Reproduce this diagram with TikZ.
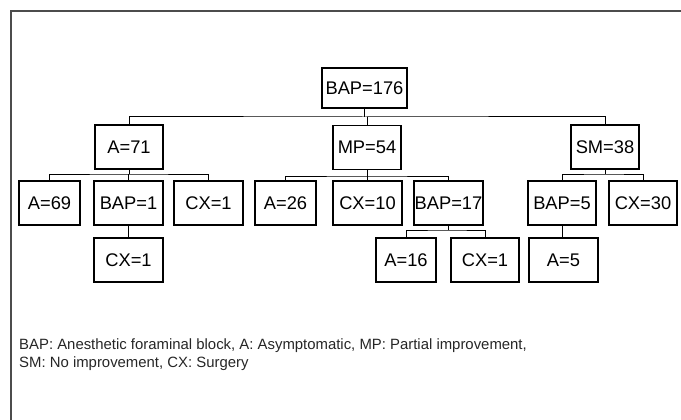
\documentclass[tikz,border=0pt]{standalone}
\usepackage{fontspec}
\setmainfont{Liberation Sans}
\begin{document}
\begin{tikzpicture}[x=1pt,y=-1pt,
  box/.style={draw=black,line width=1.2pt,minimum height=44pt,inner sep=0pt,
    font=\fontsize{18.3}{20}\selectfont},
  link/.style={draw=black,line width=1pt},
  legend/.style={anchor=base west,inner sep=0pt,font=\fontsize{14.9}{18}\selectfont,text=black!85},
  frame/.style={draw=black!70,line width=1.6pt}]
\useasboundingbox (0,0) rectangle (681,420);
\draw[frame] (11,420) -- (11,11) -- (681,11);
% level 0
\node[box,minimum width=85pt,minimum height=40pt] (root) at (364.5,88) {BAP=176};
% level 1
\node[box,minimum width=68pt] (a71) at (129,147) {A=71};
\node[box,minimum width=68pt] (mp54) at (367,147.5) {MP=54};
\node[box,minimum width=68pt] (sm38) at (605,147) {SM=38};
% level 2
\node[box,minimum width=61pt] (a69) at (49.5,203) {A=69};
\node[box,minimum width=69pt] (bap1) at (128.5,203) {BAP=1};
\node[box,minimum width=69pt] (cx1a) at (208.5,203) {CX=1};
\node[box,minimum width=61pt] (a26) at (285.5,203) {A=26};
\node[box,minimum width=69pt] (cx10) at (367.5,203) {CX=10};
\node[box,minimum width=69pt] (bap17) at (448.5,203) {BAP=17};
\node[box,minimum width=68pt] (bap5) at (562,203) {BAP=5};
\node[box,minimum width=68pt] (cx30) at (643,203) {CX=30};
% level 3
\node[box,minimum width=69pt] (cx1b) at (128.5,260) {CX=1};
\node[box,minimum width=60pt] (a16) at (406,260) {A=16};
\node[box,minimum width=68pt] (cx1c) at (485,260) {CX=1};
\node[box,minimum width=69pt] (a5) at (563.5,260) {A=5};
% bars
\coordinate (b0) at (364.5,117);
\coordinate (b1) at (129,174);
\coordinate (b2) at (367,176);
\coordinate (b3) at (448.5,230);
\coordinate (b4) at (605,174);
% connectors
\draw[link] (root.south) -- (b0);
\draw[link] (a71.north) |- (b0) -| (sm38.north);
\draw[link] (mp54.north) -- (mp54.north |- b0);
\draw[link] (a71.south) -- (b1);
\draw[link] (a69.north) |- (b1) -| (cx1a.north);
\draw[link] (bap1.north) -- (bap1.north |- b1);
\draw[link] (bap1.south) -- (cx1b.north);
\draw[link] (mp54.south) -- (b2);
\draw[link] (a26.north) |- (b2) -| (bap17.north);
\draw[link] (cx10.north) -- (cx10.north |- b2);
\draw[link] (bap17.south) -- (b3);
\draw[link] (a16.north) |- (b3) -| (cx1c.north);
\draw[link] (sm38.south) -- (b4);
\draw[link] (bap5.north) |- (b4) -| (cx30.north);
\draw[link] (bap5.south) -- (bap5.south |- a5.north);
% legend
\node[legend] (leg1) at (19,349)
  {BAP: Anesthetic foraminal block, A: Asymptomatic, MP: Partial improvement,};
\node[legend] (leg2) at (19,367)
  {SM: No improvement, CX: Surgery};
\end{tikzpicture}
\end{document}
